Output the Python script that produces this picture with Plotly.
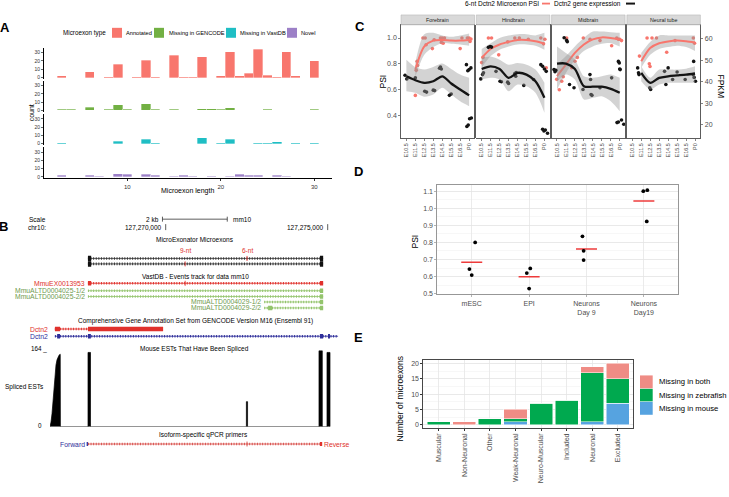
import plotly.graph_objects as go

W, H = 729, 497
FONT = "Liberation Sans, Arial, Helvetica, sans-serif"
GT = "#4D4D4D"


def fx(p):
    return p / W


def fy(p):
    return 1 - p / H


# ======================= DATA =======================
# ---- Panel A : microexon length histograms ----
a_types = ["Annotated", "Missing in GENCODE", "Missing in VastDB", "Novel"]
a_colors = ["#F8766D", "#72B043", "#1FBEC4", "#9C80C7"]
annotated_len = [3, 6, 8, 9, 11, 12, 13, 15, 16, 17, 18, 20, 21, 22, 23, 24, 25, 26, 27, 28, 30]
annotated_cnt = [2, 7, 1, 16, 1, 21, 1, 27, 1, 1, 25, 2, 31, 2, 5, 34, 3, 1, 31, 2, 20]
gencode_len = [3, 4, 6, 8, 9, 10, 12, 13, 15, 18, 19, 20, 21, 25, 30]
gencode_cnt = [1, 1, 4, 1, 7, 1, 8, 1, 1, 2, 2, 1, 3, 1, 1]
vastdb_len = [3, 9, 12, 13, 18, 20, 21, 24, 25, 26, 28, 30]
vastdb_cnt = [1, 3, 5, 1, 7, 1, 5, 1, 1, 2, 1, 1]
novel_len = [3, 6, 7, 9, 10, 12, 13, 15, 16, 17, 19, 21, 22, 23, 24, 26, 27]
novel_cnt = [2, 2, 1, 4, 3, 3, 2, 1, 2, 1, 1, 1, 3, 2, 2, 2, 1]
a_xticks = [10, 20, 30]
a_yticks = [0, 10, 20, 30]

# ---- Panel B : genome browser (mm10, chr10, bp) ----
b_scale_start, b_scale_end = 127269900, 127271900
b_chr_ticks = [127270000, 127275000]
b_chr_labels = ["127,270,000", "127,275,000"]
me_intron = [127267600, 127274860]
me_flank_start = [127267600, 127274760]
me_flank_end = [127267700, 127274860]
microexon_names = ["9-nt", "6-nt"]
microexon_pos = [127270600, 127272510]
vast_names = ["MmuEX0013953", "MmuALTD0004025-1/2", "MmuALTD0004025-2/2",
              "MmuALTD0004029-1/2", "MmuALTD0004029-2/2"]
vast_start = [127267600, 127267600, 127267600, 127273040, 127273040]
vast_end = [127274860, 127274860, 127274860, 127274860, 127274860]
vast_exons = [[(127267600, 127267700), (127274760, 127274860)],
              [(127274760, 127274860)],
              [(127274760, 127274860)],
              [(127274760, 127274860)],
              [(127273160, 127273290), (127274760, 127274860)]]
gencode_names = ["Dctn2", "Dctn2"]
gencode_start = [127266580, 127266580]
gencode_end = [127267600, 127275320]
gencode_exons = [[(127266580, 127266740), (127267600, 127269920)],
                 [(127266650, 127266740), (127267600, 127267690),
                  (127274760, 127274860), (127275010, 127275070)]]
est_ramp_pos = [127266429, 127266460, 127266491, 127266522, 127266553, 127266583,
                127266614, 127266645, 127266676, 127266707, 127266745]
est_ramp_cnt = [0, 10, 28, 55, 88, 115, 133, 144, 150, 154, 156]
est_bar_start = [127267602, 127272490, 127274731, 127274978]
est_bar_end = [127267679, 127272527, 127274833, 127275071]
est_bar_cnt = [160, 54, 164, 160]
est_max = 164
primer_fwd = (127267560, 127267600)
primer_rev = (127274760, 127274830)
primer_mid = 127272510

# ---- Panel C : developmental time course ----
c_tissues = ["Forebrain", "Hindbrain", "Midbrain", "Neural tube"]
c_stages = ["E10.5", "E11.5", "E12.5", "E13.5", "E14.5", "E15.5", "E16.5", "P0"]
c_stage_pos = [1, 2, 3, 4, 5, 6, 7, 8]
c_psi_ticks = [0.4, 0.6, 0.8, 1.0]
c_fpkm_ticks = [20, 30, 40, 50, 60]

fb_psi_x = [2.0, 2.1, 2.2, 2.25, 2.85, 3.1, 3.2, 3.9, 4.1, 4.8, 4.9, 5.0, 5.1, 5.25, 7.0, 7.2, 7.8, 8.0, 8.1, 8.2]
fb_psi_y = [0.556, 0.75, 0.82, 0.787, 1.0, 1.0, 0.948, 0.918, 0.987, 1.0, 0.966, 1.0, 0.96, 1.0, 0.918, 1.0, 1.0, 1.0, 0.974, 0.992]
fb_fpkm_x = [0.85, 1.05, 2.0, 3.05, 3.25, 4.0, 4.15, 4.7, 4.8, 4.9, 5.8, 6.0, 7.7, 7.85, 8.0, 8.2, 7.75, 7.9, 8.05, 8.25]
fb_fpkm_y = [43.0, 41.3, 41.8, 35.6, 35.2, 36.1, 35.9, 46.2, 46.8, 45.9, 33.7, 34.3, 47.9, 45.1, 45.6, 46.4, 19.3, 20.0, 22.9, 23.2]
fb_psi_fit = [None, 0.756, 0.935, 0.98, 0.985, 0.98, 0.98, 0.985]
fb_psi_lo = [None, 0.70, 0.87, 0.93, 0.96, 0.955, 0.95, 0.94]
fb_psi_hi = [None, 0.81, 1.03, 1.04, 1.02, 1.01, 1.02, 1.035]
fb_fpkm_fit = [42.5, 40.7, 39.5, 40.2, 42.5, 39.2, 36.4, 33.7]
fb_fpkm_lo = [35.6, 34.9, 33.1, 34.1, 37.2, 34.1, 31.0, 28.7]
fb_fpkm_hi = [50.2, 46.8, 45.6, 46.8, 48.4, 45.9, 43.3, 41.8]

hb_psi_x = [1.0, 1.15, 1.75, 2.1, 2.9, 3.9, 4.7, 5.2, 6.2, 7.6, 7.9, 8.05, 8.2]
hb_psi_y = [0.81, 0.85, 1.0, 1.0, 0.87, 0.97, 1.0, 1.0, 0.99, 1.0, 0.955, 0.99, 0.77]
hb_fpkm_x = [0.9, 1.1, 1.2, 1.75, 1.95, 2.1, 2.6, 3.05, 3.2, 3.9, 4.0, 4.7, 4.8, 4.85, 5.7, 6.8, 7.6, 7.8, 8.0, 8.2, 7.8, 7.95, 8.1, 8.35]
hb_fpkm_y = [41.3, 43.3, 44.1, 55.9, 56.3, 56.0, 44.8, 40.2, 40.0, 39.8, 39.2, 43.8, 42.5, 44.2, 38.3, 41.0, 47.9, 47.1, 45.9, 44.8, 18.0, 17.2, 17.7, 16.2]
hb_psi_fit = [0.846, 0.915, 0.95, 0.97, 0.985, 0.985, 0.975, 0.956]
hb_psi_lo = [0.77, 0.86, 0.91, 0.935, 0.95, 0.95, 0.94, 0.91]
hb_psi_hi = [0.915, 0.96, 1.0, 1.02, 1.03, 1.03, 1.02, 1.04]
hb_fpkm_fit = [45.9, 47.1, 45.9, 41.8, 44.1, 43.3, 40.2, 32.6]
hb_fpkm_lo = [41.0, 41.8, 41.0, 35.6, 38.7, 37.9, 34.9, 25.7]
hb_fpkm_hi = [51.0, 51.7, 50.2, 47.9, 48.7, 47.9, 45.6, 39.5]

mb_psi_x = [0.97, 1.26, 1.53, 1.7, 2.08, 2.64, 3.01, 3.27, 3.94, 4.69, 5.8, 7.1, 7.67, 7.85, 8.0, 8.2]
mb_psi_y = [0.68, 0.60, 0.666, 0.70, 1.0, 0.77, 0.82, 0.85, 1.0, 0.99, 0.98, 0.94, 1.0, 0.99, 0.99, 0.98]
mb_fpkm_x = [0.67, 0.78, 0.89, 1.8, 2.08, 2.15, 2.4, 2.9, 3.9, 4.68, 4.75, 4.8, 4.9, 5.8, 7.1, 7.85, 7.95, 8.0, 8.05, 7.7, 7.85, 8.2, 8.45]
mb_fpkm_y = [45.6, 44.6, 45.3, 60.3, 59.1, 58.5, 38.7, 37.2, 36.4, 43.3, 41.0, 34.1, 33.7, 37.2, 41.8, 49.4, 48.7, 45.9, 45.6, 21.1, 21.4, 22.3, 20.3]
mb_psi_fit = [0.705, 0.795, 0.885, 0.95, 0.99, 1.005, 1.0, 0.987]
mb_psi_lo = [0.60, 0.73, 0.83, 0.90, 0.935, 0.955, 0.96, 0.935]
mb_psi_hi = [0.795, 0.86, 0.935, 1.0, 1.05, 1.05, 1.045, 1.04]
mb_fpkm_fit = [48.4, 48.4, 45.9, 37.9, 37.7, 37.7, 36.7, 34.9]
mb_fpkm_lo = [40.2, 43.3, 41.0, 31.8, 32.6, 33.3, 31.0, 26.4]
mb_fpkm_hi = [56.3, 53.3, 50.2, 42.5, 41.8, 42.5, 43.3, 41.8]

nt_psi_x = [1.8, 2.65, 2.9, 2.98, 3.2, 3.7, 4.84, 5.77, 7.81, 7.95]
nt_psi_y = [0.86, 1.0, 0.80, 0.78, 1.0, 1.0, 0.89, 0.98, 1.0, 0.96]
nt_fpkm_x = [1.6, 1.7, 1.75, 2.95, 3.05, 4.6, 4.75, 5.0, 5.5, 6.0, 6.9, 7.85, 7.8, 7.9, 8.05]
nt_fpkm_y = [46.4, 44.1, 43.3, 37.2, 36.4, 44.8, 38.7, 46.4, 41.0, 44.5, 41.0, 49.4, 43.3, 42.0, 40.2]
nt_psi_fit = [None, 0.82, 0.923, 0.96, 0.974, 0.98, 0.975, 0.966]
nt_psi_lo = [None, 0.77, 0.87, 0.915, 0.93, 0.94, 0.93, 0.90]
nt_psi_hi = [None, 0.885, 0.97, 1.02, 1.02, 1.02, 1.02, 1.02]
nt_fpkm_fit = [None, 44.1, 39.5, 41.8, 42.5, 42.9, 43.3, 43.8]
nt_fpkm_lo = [None, 40.2, 36.4, 38.7, 39.5, 39.5, 39.5, 39.5]
nt_fpkm_hi = [None, 47.1, 41.8, 45.6, 45.6, 45.6, 46.0, 47.1]

# ---- Panel D : PSI in differentiation ----
d_groups = ["mESC", "EPI", "Neurons<br>Day 9", "Neurons<br>Day19"]
d_group_of_point = [1, 1, 1, 2, 2, 2, 3, 3, 3, 4, 4, 4]
d_point_x = [0.96, 1.0, 1.06, 1.96, 2.02, 2.0, 2.93, 2.95, 2.95, 3.99, 4.06, 4.05]
d_point_psi = [0.644, 0.609, 0.80, 0.621, 0.648, 0.53, 0.836, 0.751, 0.697, 1.10, 1.106, 0.923]

# ---- Panel E : microexon classes ----
e_classes = ["Muscular", "Non-Neuronal", "Other", "Weak-Neuronal",
             "Neuro-Muscular", "Included", "Neuronal", "Excluded"]
e_missing_mouse = [0, 0, 0, 1, 0, 0, 1, 7]
e_missing_zebrafish = [1, 0, 2, 1, 7, 8, 16, 8]
e_missing_both = [0, 1, 0, 3, 0, 0, 2, 5]
e_series = ["Missing in both", "Missing in zebrafish", "Missing in mouse"]
e_colors = ["#EF8C85", "#00A94F", "#56A3E0"]

# ======================= FIGURE =======================
fig = go.Figure()
shapes, annots = [], []
lay = {}


def text(x, y, s, size=7.0, color="black", xanchor="center", yanchor="middle",
         angle=0, bold=False, xref="paper", yref="paper", xshift=0):
    if xref == "paper":
        x = fx(x)
    if yref == "paper":
        y = fy(y)
    annots.append(dict(x=x, y=y, xref=xref, yref=yref,
                       text=("<b>%s</b>" % s) if bold else s, showarrow=False,
                       xanchor=xanchor, yanchor=yanchor, textangle=angle, xshift=xshift,
                       font=dict(family=FONT, size=size, color=color), borderpad=0))


def rect(x0, y0, x1, y1, fill, line="rgba(0,0,0,0)", lw=0):
    shapes.append(dict(type="rect", xref="paper", yref="paper", x0=fx(x0), x1=fx(x1),
                       y0=fy(y0), y1=fy(y1), fillcolor=fill, line=dict(color=line, width=lw),
                       layer="above"))


def hline(x0, x1, y, color, lw):
    shapes.append(dict(type="line", xref="paper", yref="paper", x0=fx(x0), x1=fx(x1),
                       y0=fy(y), y1=fy(y), line=dict(color=color, width=lw)))


# panel letters
for L, (lx, ly) in zip("ABCDE", [(5, 28), (4, 228), (360, 27), (358, 173), (358, 340)]):
    text(lx, ly, L, 13, bold=True)

# ---------------- Panel A ----------------
A_RANGE = [-1.7, 35.7]
A_SCALE = 25.0 / 30.0  # px per count
a_zero_px = [78, 111, 144.5, 178]
a_series = [(annotated_len, annotated_cnt), (gencode_len, gencode_cnt),
            (vastdb_len, vastdb_cnt), (novel_len, novel_cnt)]
lay["xaxis"] = dict(domain=[fx(44), fx(332)], range=[1.1, 31.9], anchor="y4",
                    tickvals=a_xticks, showline=True, linecolor="black", linewidth=1,
                    ticks="outside", ticklen=2, tickwidth=0.8, tickcolor="black",
                    tickfont=dict(size=6, color="#333", family=FONT),
                    showgrid=False, zeroline=False)
for k, ((lens, cnts), col) in enumerate(zip(a_series, a_colors)):
    name = "yaxis" if k == 0 else "yaxis%d" % (k + 1)
    z = a_zero_px[k]
    lay[name] = dict(domain=[fy(z - A_RANGE[0] * A_SCALE), fy(z - A_RANGE[1] * A_SCALE)],
                     range=A_RANGE, anchor="x", tickvals=a_yticks, showline=True,
                     linecolor="black", linewidth=1, ticks="outside", ticklen=2,
                     tickwidth=0.8, tickfont=dict(size=5, color="#333", family=FONT),
                     showgrid=False, zeroline=False)
    fig.add_trace(go.Bar(x=lens, y=cnts, width=1, xaxis="x",
                         yaxis="y" if k == 0 else "y%d" % (k + 1),
                         marker=dict(color=col, line=dict(color="rgba(255,255,255,0.55)", width=0.6)),
                         showlegend=False, hoverinfo="skip"))
text(188, 192, "Microexon length", 7)
text(31, 114, "count", 7, angle=-90)
# legend A
text(62, 33, "Microexon type", 6.3, xanchor="left")
for col, lab, sx, tx in zip(a_colors, a_types, [112, 154, 226, 287], [125, 168, 239, 300]):
    rect(sx, 28, sx + 10, 38, col)
    text(tx, 33, lab, 5.7, xanchor="left")

# ---------------- Panel B ----------------
BP0, BPX = 127270000, 165.7   # bp at pixel BPX
BP_PER_PX = 1 / 0.0324
lay["xaxis2"] = dict(domain=[fx(50), fx(340)],
                     range=[BP0 + (50 - BPX) * BP_PER_PX, BP0 + (340 - BPX) * BP_PER_PX],
                     anchor="y5", visible=False)
lay["yaxis5"] = dict(domain=[fy(452), fy(212)], range=[452, 212], anchor="x2", visible=False)
lay["yaxis6"] = dict(domain=[fy(429.3), fy(352.7)], range=[0, est_max], anchor="x2", visible=False)


def seg(x, y, color, width, dash=None):
    fig.add_trace(go.Scatter(x=x, y=y, mode="lines", xaxis="x2", yaxis="y5",
                             line=dict(color=color, width=width, dash=dash),
                             showlegend=False, hoverinfo="skip"))


def intron(s, e, row, color):
    seg([s, e], [row, row], color, 0.8)
    seg([s, e], [row, row], color, 2.6, "1px,1.6px")


def blocks(exons, row, color, h):
    xs, ys = [], []
    for s, e in exons:
        xs += [s, e, None]
        ys += [row, row, None]
    seg(xs, ys, color, h)


# scale row
ROW_SCALE, ROW_CHR = 220.5, 228.5
seg([b_scale_start, b_scale_end], [ROW_SCALE, ROW_SCALE], "#333", 0.8)
for p in (b_scale_start, b_scale_end):
    seg([p, p], [ROW_SCALE - 2.5, ROW_SCALE + 2.5], "#333", 0.8)
for p, lab in zip(b_chr_ticks, b_chr_labels):
    seg([p, p], [ROW_CHR - 3, ROW_CHR + 3], "#333", 0.8)
    text(p, ROW_CHR, lab, 6.5, xanchor="right", xref="x2", yref="y5", xshift=-3)
text(b_scale_start, ROW_SCALE, "2 kb", 6.5, xanchor="right", xref="x2", yref="y5", xshift=-2)
text(b_scale_end, ROW_SCALE, "mm10", 6.5, xanchor="left", xref="x2", yref="y5", xshift=5)
text(47, ROW_SCALE, "Scale", 6.5, xanchor="right")
text(47, ROW_CHR, "chr10:", 6.5, xanchor="right")

# MicroExonator track
text(195, 241, "MicroExonator Microexons", 6.5)
ME_ROWS = [260, 265.5]
for row in ME_ROWS:
    intron(me_intron[0], me_intron[1], row, "#333")
    blocks(list(zip(me_flank_start, me_flank_end)), row, "#111", 5.5)
RED = "#E0312C"
for name, pos, row in zip(microexon_names, microexon_pos, [ME_ROWS[1], ME_ROWS[0]]):
    seg([pos, pos], [row - 2.5, row + 2.5], RED, 0.9)
    text(pos, 252, name, 6.5, color=RED, xref="x2", yref="y5")

# VastDB track
text(195, 278, "VastDB - Events track for data mm10", 6.5)
GREEN_TXT, GREEN_LN = "#6E9A4E", "#93C46C"
VAST_ROWS = [285, 292.5, 298.3, 303.8, 309.8]
for i, (nm, s, e, ex, row) in enumerate(zip(vast_names, vast_start, vast_end, vast_exons, VAST_ROWS)):
    col_t = RED if i == 0 else GREEN_TXT
    col_l = RED if i == 0 else GREEN_LN
    intron(s, e, row, col_l)
    blocks(ex, row, col_l, 4.5)
    if i == 0:
        seg([microexon_pos[0], microexon_pos[0]], [row - 2.5, row + 2.5], RED, 0.9)
    text(s, row, nm, 6.8, color=col_t, xanchor="right", xref="x2", yref="y5", xshift=-2)

# GENCODE track
text(195, 322.7, "Comprehensive Gene Annotation Set from GENCODE Version M16 (Ensembl 91)", 6.5)
BLUE = "#2E2E9A"
GEN_ROWS = [331, 338.3]
for nm, s, e, ex, row, col in zip(gencode_names, gencode_start, gencode_end, gencode_exons,
                                  GEN_ROWS, [RED, BLUE]):
    intron(s, e, row, col)
    blocks(ex, row, col, 4.5)
    text(49, row, nm, 6.8, color=col, xanchor="right")

# EST track
text(194, 350.7, "Mouse ESTs That Have Been Spliced", 6.5)
est_x, est_y = list(est_ramp_pos), list(est_ramp_cnt)
est_x.append(est_ramp_pos[-1] + 5)
est_y.append(0)
for s, e, c in zip(est_bar_start, est_bar_end, est_bar_cnt):
    est_x += [s, s, e, e]
    est_y += [0, c, c, 0]
fig.add_trace(go.Scatter(x=est_x, y=est_y, mode="lines", fill="tozeroy", fillcolor="black",
                         line=dict(color="black", width=0.7), xaxis="x2", yaxis="y6",
                         showlegend=False, hoverinfo="skip"))
text(48, 351.5, "%d _" % est_max, 6.3, xanchor="right")
text(4, 389, "Spliced ESTs", 6.5, xanchor="left")
text(43, 428.5, "0", 6.3, xanchor="right")

# primers track
text(203, 437.7, "Isoform-specific qPCR primers", 6.5)
ROW_PR = 446.7
intron(primer_fwd[1], primer_rev[0], ROW_PR, "#D9534F")
seg([primer_mid, primer_mid], [ROW_PR - 2.5, ROW_PR + 2.5], "#D9534F", 0.9)
blocks([primer_fwd], ROW_PR, BLUE, 4)
blocks([primer_rev], ROW_PR, RED, 4)
text(primer_fwd[0], ROW_PR, "Forward", 6.8, color=BLUE, xanchor="right", xref="x2", yref="y5", xshift=-1)
text(primer_rev[1], ROW_PR, "Reverse", 6.8, color=RED, xanchor="left", xref="x2", yref="y5", xshift=1)

# ---------------- Panel C ----------------
C_PANELS = [(401, 474.5), (476.3, 549.8), (551.6, 625.1), (626.9, 700.4)]
C_TOP, C_BOT = 25, 139
PSI_COL, EXP_COL, RIB = "#F8766D", "#141414", "rgba(150,150,150,0.42)"
c_data = [
    (fb_psi_x, fb_psi_y, fb_fpkm_x, fb_fpkm_y, fb_psi_fit, fb_psi_lo, fb_psi_hi, fb_fpkm_fit, fb_fpkm_lo, fb_fpkm_hi),
    (hb_psi_x, hb_psi_y, hb_fpkm_x, hb_fpkm_y, hb_psi_fit, hb_psi_lo, hb_psi_hi, hb_fpkm_fit, hb_fpkm_lo, hb_fpkm_hi),
    (mb_psi_x, mb_psi_y, mb_fpkm_x, mb_fpkm_y, mb_psi_fit, mb_psi_lo, mb_psi_hi, mb_fpkm_fit, mb_fpkm_lo, mb_fpkm_hi),
    (nt_psi_x, nt_psi_y, nt_fpkm_x, nt_fpkm_y, nt_psi_fit, nt_psi_lo, nt_psi_hi, nt_fpkm_fit, nt_fpkm_lo, nt_fpkm_hi),
]


def defined(vals):
    xs = [p for p, v in zip(c_stage_pos, vals) if v is not None]
    ys = [v for v in vals if v is not None]
    return xs, ys


def ribbon_and_fit(xa, axy, fit, lo, hi, col, lw):
    xs, los = defined(lo)
    _, his = defined(hi)
    fig.add_trace(go.Scatter(x=xs, y=los, mode="lines", xaxis=xa, yaxis=axy,
                             line=dict(width=0, shape="spline", smoothing=0.8),
                             showlegend=False, hoverinfo="skip"))
    fig.add_trace(go.Scatter(x=xs, y=his, mode="lines", xaxis=xa, yaxis=axy, fill="tonexty",
                             fillcolor=RIB, line=dict(width=0, shape="spline", smoothing=0.8),
                             showlegend=False, hoverinfo="skip"))
    xs, fits = defined(fit)
    fig.add_trace(go.Scatter(x=xs, y=fits, mode="lines", xaxis=xa, yaxis=axy,
                             line=dict(color=col, width=lw, shape="spline", smoothing=0.8),
                             showlegend=False, hoverinfo="skip"))


for k, (tissue, (L, R), dat) in enumerate(zip(c_tissues, C_PANELS, c_data)):
    psx, psy, fpx, fpy, pfit, plo, phi, ffit, flo, fhi = dat
    xa, ya, yb = "x%d" % (3 + k), "y%d" % (7 + k), "y%d" % (11 + k)
    lay["xaxis%d" % (3 + k)] = dict(domain=[fx(L), fx(R)], range=[0.4, 8.6], anchor=ya,
                                    tickvals=c_stage_pos, ticktext=c_stages, tickangle=-90,
                                    tickfont=dict(size=5.5, color=GT, family=FONT),
                                    ticks="outside", ticklen=2, tickwidth=0.6, tickcolor="#333",
                                    showline=True, mirror=True, linecolor="#333", linewidth=0.8,
                                    showgrid=False, zeroline=False)
    lay["yaxis%d" % (7 + k)] = dict(domain=[fy(C_BOT), fy(C_TOP)], range=[0.225, 1.102], anchor=xa,
                                    tickvals=c_psi_ticks, ticktext=["%.1f" % v for v in c_psi_ticks],
                                    showticklabels=(k == 0), ticks="outside", ticklen=2 if k == 0 else 0,
                                    tickwidth=0.6, tickcolor="#333",
                                    tickfont=dict(size=7, color=GT, family=FONT),
                                    showline=True, mirror=True, linecolor="#333", linewidth=0.8,
                                    showgrid=False, zeroline=False)
    lay["yaxis%d" % (11 + k)] = dict(overlaying=ya, side="right", anchor=xa, range=[13.9, 66.3],
                                     tickvals=c_fpkm_ticks, showticklabels=(k == 3),
                                     ticks="outside", ticklen=2 if k == 3 else 0, tickwidth=0.6,
                                     tickcolor="#333", tickfont=dict(size=7, color=GT, family=FONT),
                                     showline=False, showgrid=False, zeroline=False)
    # strips
    rect(L, 15, R, 25, "#D9D9D9", "#B0B0B0", 0.5)
    text((L + R) / 2, 20.2, tissue, 5.3, color="#1A1A1A")
    # PSI layers
    fig.add_trace(go.Scatter(x=psx, y=psy, mode="markers", xaxis=xa, yaxis=ya,
                             marker=dict(color=PSI_COL, size=3.6), showlegend=False, hoverinfo="skip"))
    ribbon_and_fit(xa, ya, pfit, plo, phi, PSI_COL, 2)
    # expression layers
    fig.add_trace(go.Scatter(x=fpx, y=fpy, mode="markers", xaxis=xa, yaxis=yb,
                             marker=dict(color=EXP_COL, size=3.6), showlegend=False, hoverinfo="skip"))
    ribbon_and_fit(xa, yb, ffit, flo, fhi, EXP_COL, 2.3)

text(383, 82, "PSI", 8.5, angle=-90)
text(721, 87, "FPKM", 8.5, angle=90)
# legend C
text(540, 3.6, "6-nt Dctn2 Microexon PSI", 6.5, xanchor="right")
hline(542, 550, 3.6, PSI_COL, 1.8)
text(553, 3.6, "Dctn2 gene expression", 6.5, xanchor="left")
hline(626, 635, 3.6, EXP_COL, 2)

# ---------------- Panel D ----------------
lay["xaxis7"] = dict(domain=[fx(437.3), fx(678.3)], range=[0.4, 4.6], anchor="y15",
                     tickvals=[1, 2, 3, 4], ticktext=d_groups,
                     tickfont=dict(size=7, color=GT, family=FONT), ticks="outside", ticklen=2,
                     tickcolor="#B3B3B3", showgrid=True, gridcolor="#E6E6E6", gridwidth=0.8,
                     showline=True, mirror=True, linecolor="#8C8C8C", linewidth=0.9, zeroline=False)
lay["yaxis15"] = dict(domain=[fy(296), fy(186)], range=[0.497, 1.137], anchor="x7",
                      tick0=0.5, dtick=0.1, tickformat=".1f",
                      tickfont=dict(size=7, color=GT, family=FONT), ticks="outside", ticklen=2,
                      tickcolor="#B3B3B3", showgrid=True, gridcolor="#E3E3E3", gridwidth=0.8,
                      minor=dict(dtick=0.05, showgrid=True, gridcolor="#F1F1F1", gridwidth=0.6),
                      showline=True, mirror=True, linecolor="#8C8C8C", linewidth=0.9, zeroline=False)
d_means = []
for g in range(1, len(d_groups) + 1):
    vals = [v for gg, v in zip(d_group_of_point, d_point_psi) if gg == g]
    d_means.append(sum(vals) / len(vals))
fig.add_trace(go.Scatter(x=[1, 2, 3, 4], y=d_means, mode="markers", xaxis="x7", yaxis="y15",
                         marker=dict(symbol="line-ew", size=15, line=dict(color="#EE3B3B", width=1.6)),
                         showlegend=False, hoverinfo="skip"))
fig.add_trace(go.Scatter(x=d_point_x, y=d_point_psi, mode="markers", xaxis="x7", yaxis="y15",
                         marker=dict(color="black", size=3.8), showlegend=False, hoverinfo="skip"))
text(415, 243, "PSI", 8.5, angle=-90)

# ---------------- Panel E ----------------
lay["xaxis8"] = dict(domain=[fx(423.3), fx(633.3)], range=[0.4, 8.6], anchor="y16",
                     tickvals=list(range(1, 9)), ticktext=e_classes, tickangle=-90,
                     tickfont=dict(size=7, color=GT, family=FONT), ticks="outside", ticklen=2,
                     tickcolor="#333", showgrid=True, gridcolor="#E6E6E6", gridwidth=0.8,
                     showline=True, mirror=True, linecolor="#333", linewidth=0.9, zeroline=False)
lay["yaxis16"] = dict(domain=[fy(430.4), fy(362.6)], range=[-1, 21], anchor="x8",
                      tick0=0, dtick=5, tickfont=dict(size=7, color=GT, family=FONT),
                      ticks="outside", ticklen=2, tickcolor="#333", showgrid=True,
                      gridcolor="#E3E3E3", gridwidth=0.8,
                      minor=dict(dtick=2.5, showgrid=True, gridcolor="#F1F1F1", gridwidth=0.6),
                      showline=True, mirror=True, linecolor="#333", linewidth=0.9, zeroline=False)
for vals, col in zip([e_missing_mouse, e_missing_zebrafish, e_missing_both],
                     [e_colors[2], e_colors[1], e_colors[0]]):
    fig.add_trace(go.Bar(x=list(range(1, 9)), y=vals, width=0.9, xaxis="x8", yaxis="y16",
                         marker=dict(color=col, line=dict(color="white", width=0.5)),
                         showlegend=False, hoverinfo="skip"))
text(400, 401, "Number of microexons", 8.5, angle=-90)
for lab, col, (y0, y1) in zip(e_series, e_colors, [(377.7, 390.7), (391.2, 403.8), (404.3, 417.3)]):
    rect(640, y0, 652.7, y1, col)
    text(657.7, (y0 + y1) / 2, lab, 7.7, xanchor="left")

lay.update(dict(width=W, height=H, margin=dict(l=0, r=0, t=0, b=0), autosize=False,
                paper_bgcolor="white", plot_bgcolor="rgba(0,0,0,0)", barmode="stack",
                bargap=0, showlegend=False, shapes=shapes, annotations=annots,
                hovermode=False, font=dict(family=FONT, size=7, color="black")))
fig.update_layout(**lay)
fig.write_html("out.html", config={"displayModeBar": False, "staticPlot": True},
               post_script="document.body.style.margin='0';document.body.style.overflow='hidden';")
